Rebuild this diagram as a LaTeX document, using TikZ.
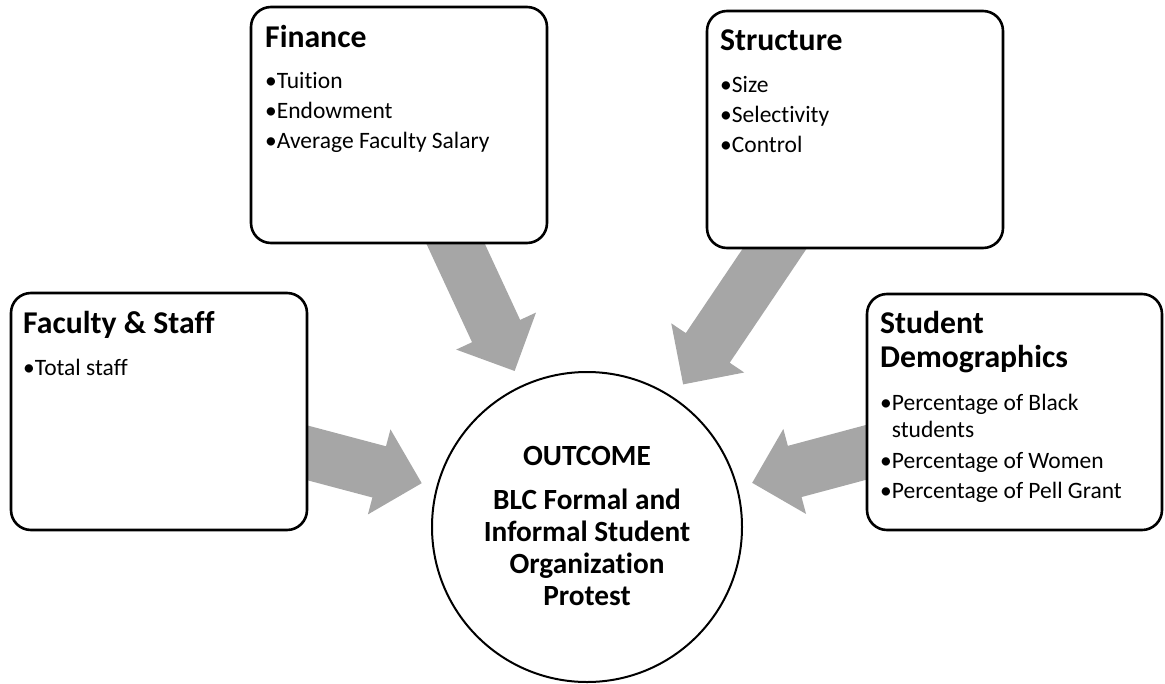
\documentclass[tikz,border=0pt]{standalone}
\usepackage{fontspec}
\setmainfont{Carlito}[RawFeature={-liga;-clig;-dlig;-calt}]
\usetikzlibrary{calc}
\pgfdeclarelayer{bg}
\pgfsetlayers{bg,main}

\tikzset{
  card/.style={draw=black, line width=2.6pt, rounded corners=20pt, fill=white,
    inner sep=0pt, outer sep=0pt},
  hub/.style={circle, draw=black, line width=2pt, fill=white, inner sep=0pt,
    minimum size=310pt},
  % multi-line nodes: the base anchor sits on the last line
  headtext/.style={anchor=base west, inner sep=0pt, align=left,
    font=\bfseries\fontsize{31.7}{34}\selectfont},
  itemtext/.style={anchor=base west, inner sep=0pt, align=left,
    font=\fontsize{23.5}{27}\selectfont},
  hubtext/.style={anchor=base, inner sep=0pt, align=center,
    font=\bfseries\fontsize{29.3}{31.7}\selectfont},
  blockfill/.style={fill=black!35, draw=none}
}

% block arrow from #1 (tail, hidden under a card) to #2 (tip)
\newcommand{\blockarrow}[2]{%
  \coordinate (ba-neck) at ($(#2)!44pt!(#1)$);
  \fill[blockfill]
    ($(#1)!26.5pt!90:(#2)$) -- ($(ba-neck)!26.5pt!90:(#2)$) --
    ($(ba-neck)!44pt!90:(#2)$) -- (#2) --
    ($(ba-neck)!44pt!-90:(#2)$) -- ($(ba-neck)!26.5pt!-90:(#2)$) --
    ($(#1)!26.5pt!-90:(#2)$) -- cycle;
}

\begin{document}
\begin{tikzpicture}[x=1pt, y=-1pt]
  \useasboundingbox (0,0) rectangle (1165,683);

  % cards
  \node[card, minimum width=296pt, minimum height=236pt] (fin) at (399,125) {};
  \node[card, minimum width=296pt, minimum height=237pt] (str) at (855,129.5) {};
  \node[card, minimum width=296pt, minimum height=237pt] (fac) at (159,411.5) {};
  \node[card, minimum width=295pt, minimum height=236pt] (stu) at (1014.5,412) {};

  % outcome circle
  \node[hub] (out) at (587,527) {};

  % card texts
  \node[headtext] (finT) at (265,47) {Finance};
  \node[itemtext] (finA) at (265,88) {•Tuition};
  \node[itemtext] (finB) at (265,118) {•Endowment};
  \node[itemtext] (finC) at (265,148) {•Average Faculty Salary};

  \node[headtext] (strT) at (720,50) {Structure};
  \node[itemtext] (strA) at (720,92) {•Size};
  \node[itemtext] (strB) at (720,122) {•Selectivity};
  \node[itemtext] (strC) at (720,152) {•Control};

  \node[headtext] (facT) at (23,333) {Faculty \& Staff};
  \node[itemtext] (facA) at (23,375) {•Total staff};

  \node[headtext] (stuT) at (880,367) {Student\\Demographics};
  \node[itemtext] (stuA) at (880,437) {•Percentage of Black\\\phantom{•}students};
  \node[itemtext] (stuB) at (880,468) {•Percentage of Women};
  \node[itemtext] (stuC) at (880,498) {•Percentage of Pell Grant};

  % circle texts
  \node[hubtext] (outT) at (587,465) {OUTCOME};
  \node[hubtext] (outB) at (587,605) {BLC Formal and\\Informal Student\\Organization\\Protest};

  % connectors: tails start on the card edges, tips stop short of the circle
  \coordinate (finS) at ($(fin.south west)!0.69!(fin.south east)$);
  \coordinate (strS) at ($(str.south west)!0.23!(str.south east)$);
  \coordinate (facS) at ($(fac.north east)!0.674!(fac.south east)$);
  \coordinate (stuS) at ($(stu.north west)!0.67!(stu.south west)$);

  \coordinate (finE) at ($(out.center)!172pt!(finS)$);
  \coordinate (strE) at ($(out.center)!172pt!(strS)$);
  \coordinate (facE) at ($(out.center)!171pt!(facS)$);
  \coordinate (stuE) at ($(out.center)!171pt!(stuS)$);

  \coordinate (finS0) at ($(finS)!-30pt!(finE)$);
  \coordinate (strS0) at ($(strS)!-30pt!(strE)$);
  \coordinate (facS0) at ($(facS)!-30pt!(facE)$);
  \coordinate (stuS0) at ($(stuS)!-30pt!(stuE)$);

  \begin{pgfonlayer}{bg}
    \blockarrow{finS0}{finE}
    \blockarrow{strS0}{strE}
    \blockarrow{facS0}{facE}
    \blockarrow{stuS0}{stuE}
  \end{pgfonlayer}
\end{tikzpicture}
\end{document}
